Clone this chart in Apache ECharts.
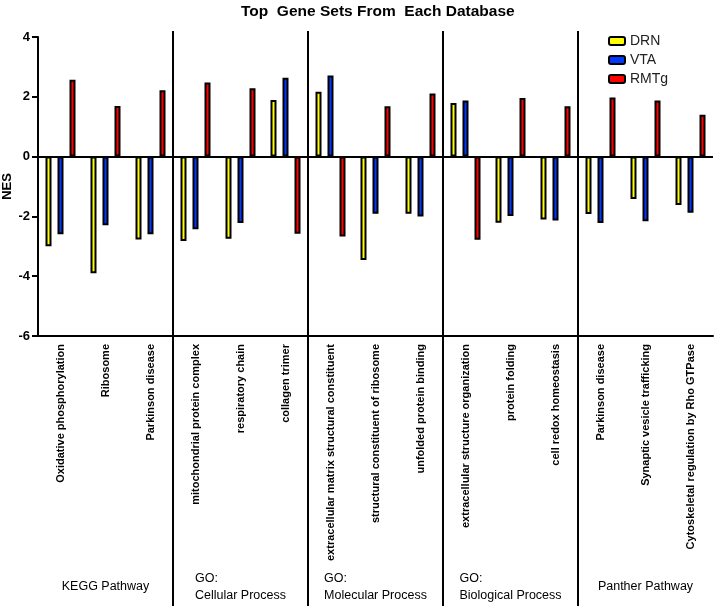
<!DOCTYPE html>
<html>
<head>
<meta charset="utf-8">
<script src="https://cdn.jsdelivr.net/npm/echarts@6/dist/echarts.min.js"></script>
<style>html,body{margin:0;padding:0;background:#fff}#c{width:715px;height:606px}</style>
</head>
<body>
<div id="c"></div>
<script>
const categories = ['Oxidative phosphorylation','Ribosome','Parkinson disease','mitochondrial protein complex','respiratory chain','collagen trimer','extracellular matrix structural constituent','structural constituent of ribosome','unfolded protein binding','extracellular structure organization','protein folding','cell redox homeostasis','Parkinson disease','Synaptic vesicle trafficking','Cytoskeletal regulation by Rho GTPase'];
const groups = ['KEGG Pathway','GO:\nCellular Process','GO:\nMolecular Process','GO:\nBiological Process','Panther Pathway'];
const DRN  = [-3.0, -3.9, -2.77, -2.82, -2.75, 1.89, 2.17, -3.46, -1.91, 1.79, -2.21, -2.10, -1.92, -1.42, -1.62];
const VTA  = [-2.6, -2.3, -2.60, -2.43, -2.22, 2.64, 2.71, -1.91, -2.00, 1.88, -1.99, -2.14, -2.22, -2.16, -1.88];
const RMTg = [2.57, 1.69, 2.22, 2.48, 2.29, -2.58, -2.67, 1.68, 2.11, -2.78, 1.96, 1.68, 1.98, 1.88, 1.40];
const yTicks = {min: -6, max: 4, interval: 2};

const FONT = 'Liberation Sans, Arial, sans-serif';
const chart = echarts.init(document.getElementById('c'), null, {renderer: 'canvas'});
function bar(name, data, color) {
  return {
    name, type: 'bar', data, xAxisIndex: 0, barWidth: 6, barGap: '100%',
    itemStyle: {color, borderColor: '#000', borderWidth: 2},
    emphasis: {disabled: true}
  };
}
const series = [bar('DRN', DRN, '#ffff00'), bar('VTA', VTA, '#0038ff'), bar('RMTg', RMTg, '#ff0000')];
series[0].markLine = {silent: true, symbol: 'none', label: {show: false},
  lineStyle: {color: '#000', width: 2, type: 'solid'}, data: [{yAxis: 0}]};

chart.setOption({
  animation: false,
  title: {text: 'Top  Gene Sets From  Each Database', left: 236, top: -1,
    textStyle: {fontFamily: FONT, fontSize: 15.5, fontWeight: 'bold', color: '#000'}},
  legend: {data: ['DRN', 'VTA', 'RMTg'], orient: 'vertical', left: 603, top: 29, itemWidth: 16, itemHeight: 8, itemGap: 5,
    textStyle: {fontFamily: FONT, fontSize: 14, color: '#222'}},
  grid: {left: 38, right: 2, top: 37, bottom: 270, outerBoundsMode: 'none', containLabel: false},
  xAxis: [{
    type: 'category', data: categories, position: 'bottom',
    axisLine: {onZero: false, lineStyle: {color: '#000', width: 2}},
    axisTick: {alignWithLabel: true, length: 6, lineStyle: {color: '#000', width: 2}},
    axisLabel: {interval: 0, rotate: 90, margin: 8, fontFamily: FONT, fontSize: 11, fontWeight: 'bold', color: '#000'},
    splitLine: {show: false}
  }, {
    type: 'category', data: groups, position: 'bottom', offset: 251, gridIndex: 0,
    axisLine: {show: false}, axisTick: {show: false}, splitLine: {show: false},
    axisLabel: {interval: 0, margin: 0, verticalAlign: 'middle', color: '#000',
      formatter: v => v.split('\n').map(s => '{a|' + s + '}').join('\n'),
      rich: {a: {align: 'left', fontFamily: FONT, fontSize: 12.5, lineHeight: 17, color: '#000'}}}
  }],
  yAxis: {
    type: 'value', min: yTicks.min, max: yTicks.max, interval: yTicks.interval,
    name: 'NES', nameLocation: 'middle', nameGap: 24, nameMoveOverlap: false,
    nameTextStyle: {fontFamily: FONT, fontSize: 13, fontWeight: 'bold', color: '#000'},
    axisLine: {show: true, lineStyle: {color: '#000', width: 2}},
    axisTick: {show: true, length: 6, lineStyle: {color: '#000', width: 2}},
    axisLabel: {fontFamily: FONT, fontSize: 13, fontWeight: 'bold', color: '#000', margin: 8},
    splitLine: {show: false}
  },
  series
});

// group separators computed from the category axis scale
const xs = categories.map((_, i) => chart.convertToPixel({xAxisIndex: 0}, i));
const yTop = chart.convertToPixel({yAxisIndex: 0}, yTicks.max) - 6;
const H = chart.getHeight();
const lines = [];
for (let k = 3; k < categories.length; k += 3) {
  const x = (xs[k - 1] + xs[k]) / 2;
  lines.push({type: 'line', silent: true, z: 10,
    shape: {x1: x, y1: yTop, x2: x, y2: H}, style: {stroke: '#000', lineWidth: 2}});
}
chart.setOption({graphic: lines});
</script>
</body>
</html>
